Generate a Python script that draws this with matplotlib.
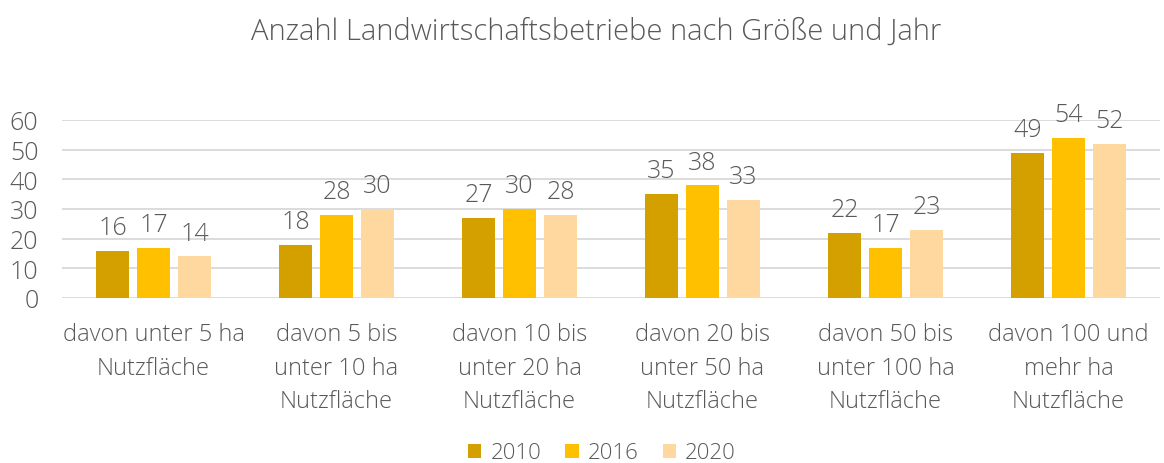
import numpy as np
import matplotlib
matplotlib.use('Agg')
import matplotlib.pyplot as plt

plt.rcParams['font.family'] = ['Open Sans', 'DejaVu Sans']

categories = ['davon unter 5 ha\nNutzfläche', 'davon 5 bis\nunter 10 ha\nNutzfläche',
              'davon 10 bis\nunter 20 ha\nNutzfläche', 'davon 20 bis\nunter 50 ha\nNutzfläche',
              'davon 50 bis\nunter 100 ha\nNutzfläche', 'davon 100 und\nmehr ha\nNutzfläche']
years = ['2010', '2016', '2020']
v2010 = [16, 18, 27, 35, 22, 49]
v2016 = [17, 28, 30, 38, 17, 54]
v2020 = [14, 30, 28, 33, 23, 52]
colors = ['#D4A000', '#FFC000', '#FFD8A0']
grey = '#595959'

fig = plt.figure(figsize=(11.64, 4.64), dpi=100)
ax = fig.add_axes([62/1164, 1-299/464, 1098/1164, 178/464])

x = np.arange(len(categories))
w = 0.18
step = 0.224
for i, (vals, yr) in enumerate(zip([v2010, v2016, v2020], years)):
    bars = ax.bar(x + (i-1)*step, vals, w, color=colors[i], label=yr, zorder=3)
    for b, v in zip(bars, vals):
        ax.text(b.get_x() + b.get_width()/2, v + 3.6, str(v), ha='center', va='bottom',
                fontsize=18, color=grey, fontweight='light')

ax.set_xlim(-0.5, len(categories)-0.5)
ax.set_ylim(0, 60)
ax.set_yticks(range(0, 61, 10))
ax.yaxis.grid(True, color='#D9D9D9', linewidth=1.3, zorder=0)
for s in ax.spines.values():
    s.set_visible(False)
ax.tick_params(axis='both', length=0, colors=grey)
ax.tick_params(axis='y', pad=17, labelsize=18)
for t in ax.get_yticklabels():
    t.set_fontweight('light')
ax.set_xticks(x)
ax.set_xticklabels(categories, fontsize=17, color=grey, fontweight='light', linespacing=1.55)
ax.tick_params(axis='x', pad=17)

fig.text(596/1164, 1-32/464, 'Anzahl Landwirtschaftsbetriebe nach Größe und Jahr', ha='center', va='center',
         fontsize=21, color=grey, fontweight='light')
fig.legend(loc='center', bbox_to_anchor=(602/1164, 1-454/464), ncol=3, frameon=False,
           prop={'size': 16, 'weight': 'light'},
           handlelength=0.6, handleheight=0.6, handletextpad=0.4, columnspacing=1.1,
           labelcolor=grey)

fig.savefig('out.png', dpi=100)
